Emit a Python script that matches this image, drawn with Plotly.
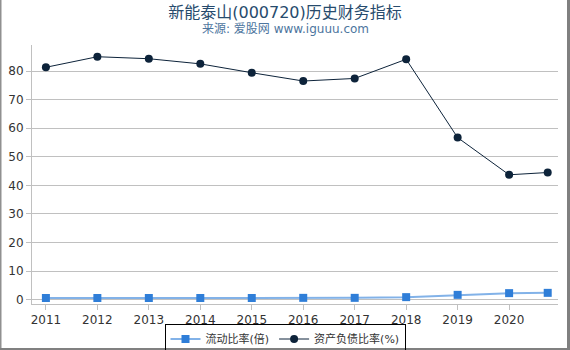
import plotly.graph_objects as go

years = [2011, 2012, 2013, 2014, 2015, 2016, 2017, 2018, 2019, 2020, 2020.75]
tick_vals = [2011, 2012, 2013, 2014, 2015, 2016, 2017, 2018, 2019, 2020]
tick_text = ["2011", "2012", "2013", "2014", "2015", "2016", "2017", "2018", "2019", "2020"]
current_ratio = [0.6, 0.6, 0.6, 0.6, 0.6, 0.65, 0.65, 0.9, 1.7, 2.3, 2.4]
debt_ratio = [81.3, 85.0, 84.3, 82.5, 79.4, 76.5, 77.4, 84.1, 56.7, 43.7, 44.5]
y_ticks = [0, 10, 20, 30, 40, 50, 60, 70, 80]

W, H = 570, 350
ML, MR, MT, MB = 32, 12, 45, 46
PW, PH = W - ML - MR, H - MT - MB

def px(x):
    return (x - ML) / PW

def py(y):
    return (H - MB - y) / PH

fig = go.Figure()
fig.add_trace(go.Scatter(
    x=years, y=current_ratio, name="流动比率(倍)", mode="lines+markers",
    line=dict(color="rgba(47,126,216,0.6)", width=2),
    marker=dict(symbol="square", size=8, color="#2f7ed8"),
))
fig.add_trace(go.Scatter(
    x=years, y=debt_ratio, name="资产负债比率(%)", mode="lines+markers",
    line=dict(color="#0d233a", width=1),
    marker=dict(symbol="circle", size=8, color="#0d233a"),
))

font_family = "DejaVu Sans, Noto Sans CJK SC, sans-serif"

fig.update_layout(
    width=W, height=H,
    margin=dict(l=ML, r=MR, t=MT, b=MB, autoexpand=False),
    paper_bgcolor="white", plot_bgcolor="white",
    font=dict(family=font_family, size=12, color="#333333"),
    title=dict(text="新能泰山(000720)历史财务指标", x=0.5, xref="container",
               y=1 - 12 / H, yref="container", yanchor="middle", xanchor="center",
               font=dict(size=16, color="#274b6d", family=font_family)),
    showlegend=True,
    legend=dict(orientation="h", x=0.5, xanchor="center", xref="container",
                y=1 - 323.5 / H, yref="container", yanchor="top",
                bordercolor="#000000", borderwidth=1, bgcolor="rgba(255,255,255,0)",
                font=dict(size=11, color="#333333"),
                tracegroupgap=0),
    xaxis=dict(range=[2010.73, 2020.95], tickvals=tick_vals, ticktext=tick_text,
               showgrid=False, showline=True, linecolor="#c0c0c0", linewidth=1,
               ticks="outside", ticklen=5, tickcolor="#c0c0c0", zeroline=False,
               tickfont=dict(size=12, color="#333333")),
    yaxis=dict(range=[-1.5, 89.1], tickvals=y_ticks, showgrid=True,
               gridcolor="#c0c0c0", gridwidth=1, showline=True, linecolor="#c0c0c0",
               ticks="outside", ticklen=5, tickcolor="#c0c0c0", zeroline=False,
               tickfont=dict(size=12, color="#333333")),
    annotations=[dict(text="来源: 爱股网 www.iguuu.com", x=px(285), y=py(29),
                      xref="paper", yref="paper", showarrow=False,
                      xanchor="center", yanchor="middle",
                      font=dict(size=12, color="#4d759e", family=font_family))],
    shapes=[
        dict(type="line", xref="paper", yref="paper", x0=px(0.75), x1=px(0.75),
             y0=py(0), y1=py(350), line=dict(color="#909090", width=1.5)),
        dict(type="line", xref="paper", yref="paper", x0=px(568.5), x1=px(568.5),
             y0=py(0), y1=py(350), line=dict(color="#808080", width=3)),
        dict(type="line", xref="paper", yref="paper", x0=px(0), x1=px(570),
             y0=py(349), y1=py(349), line=dict(color="#808080", width=2)),
    ],
)

fig.write_html("out.html")
